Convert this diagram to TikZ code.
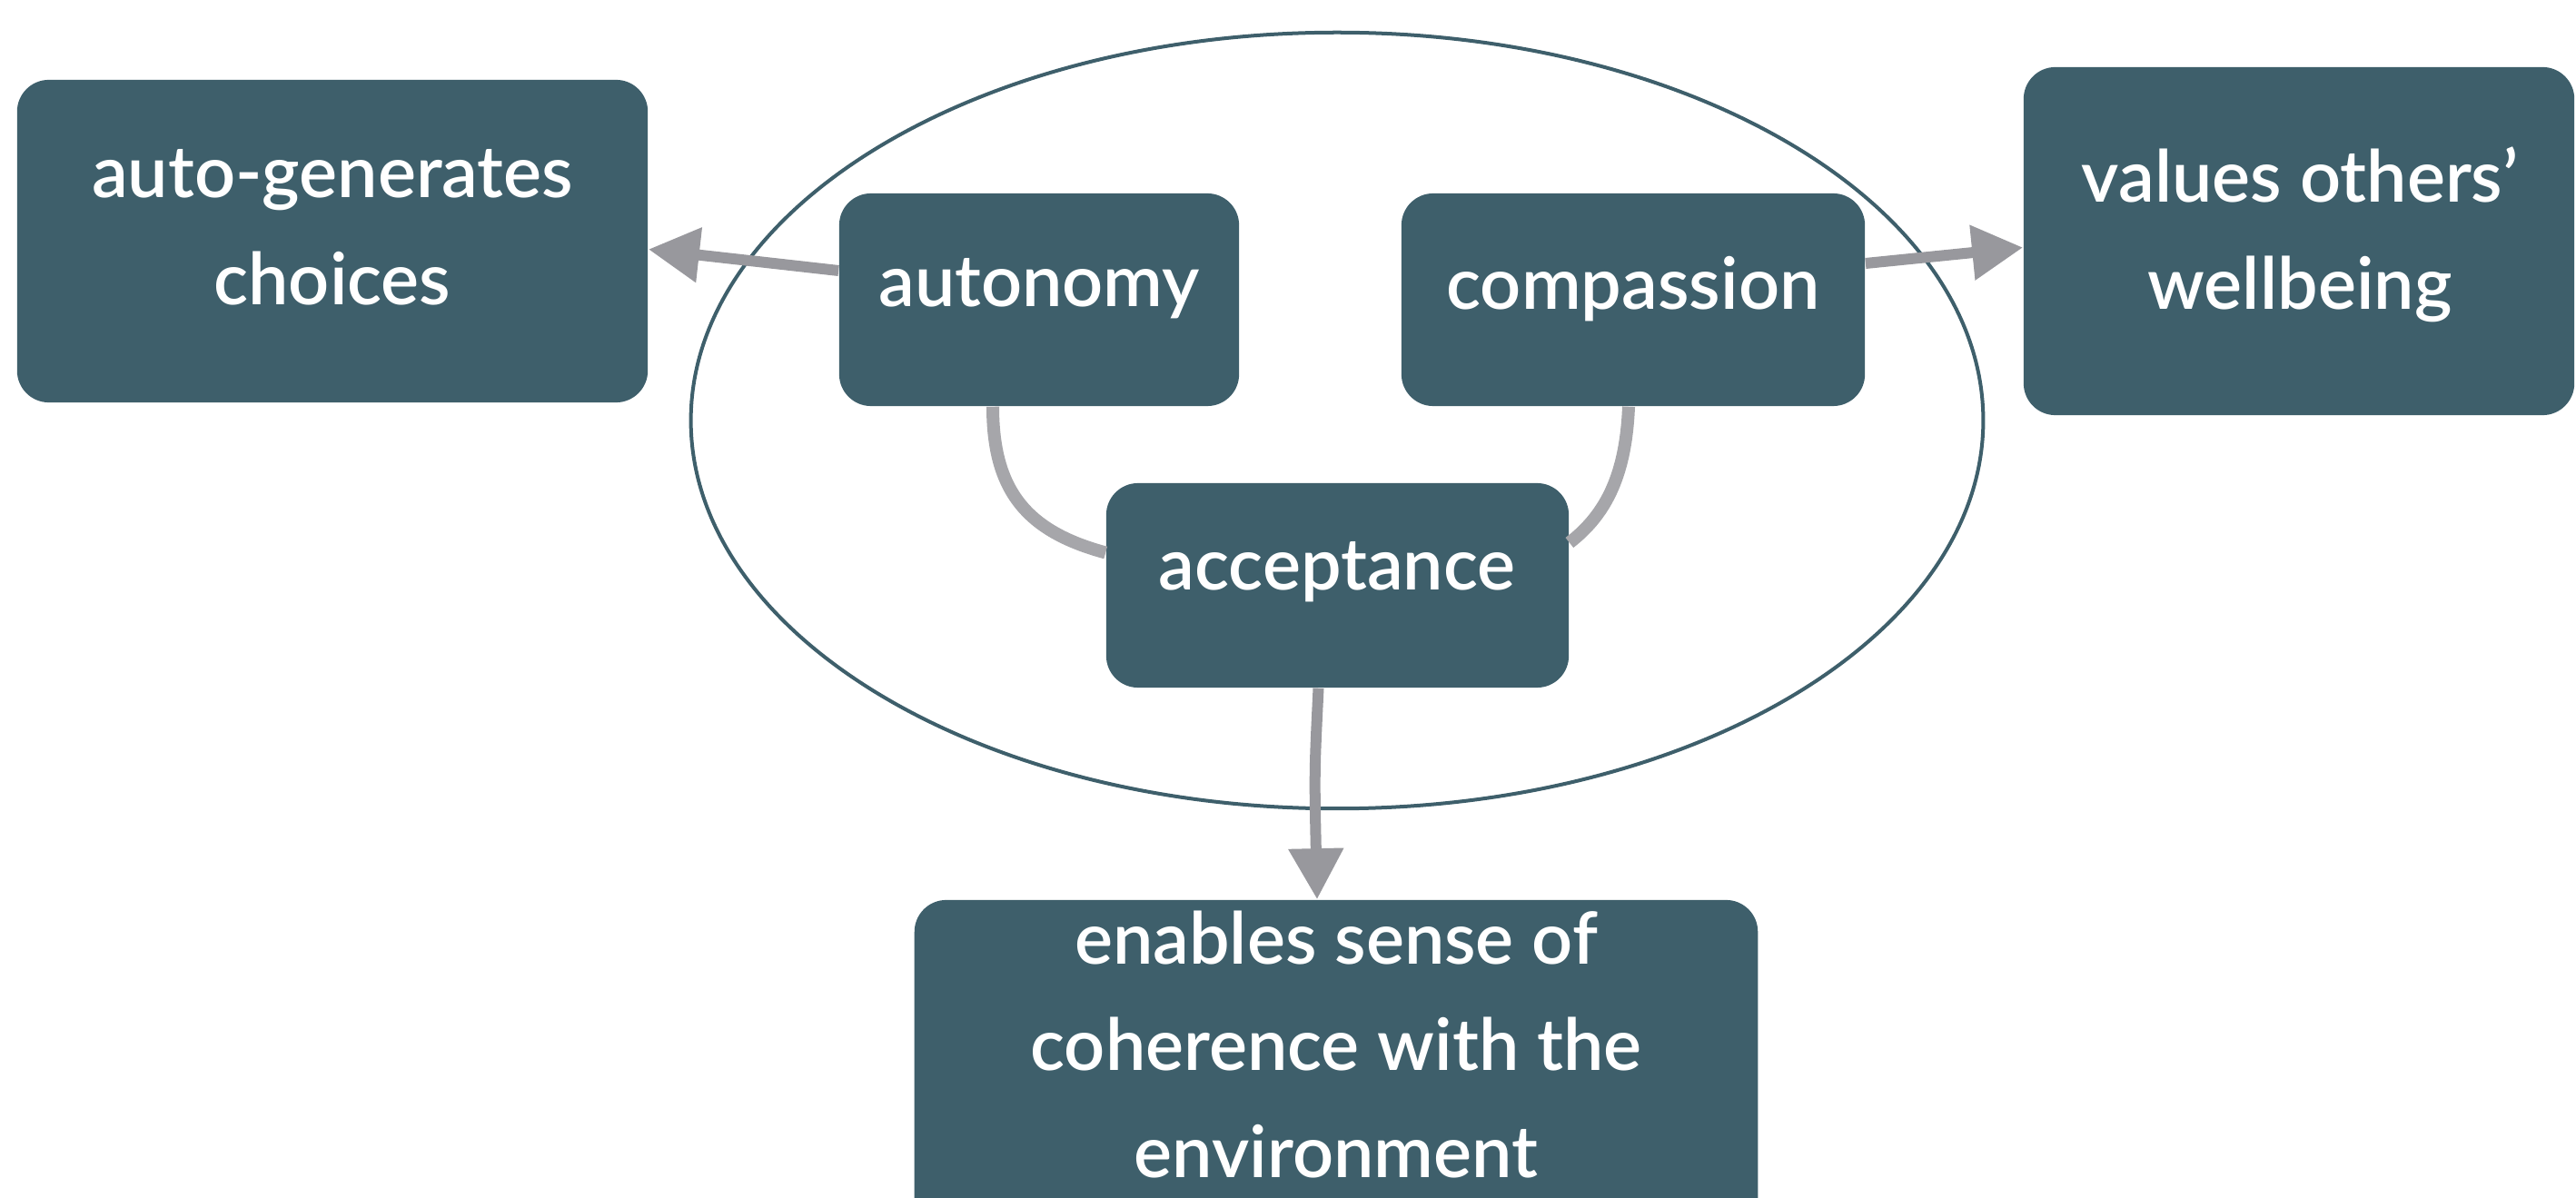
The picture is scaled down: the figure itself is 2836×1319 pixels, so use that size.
\documentclass[tikz,border=0pt]{standalone}
\usepackage{fontspec}
\setmainfont{Lato}[UprightFont=* Semibold]
\usetikzlibrary{arrows.meta,calc}
\definecolor{boxc}{HTML}{3E5F6B}
\definecolor{linkc}{HTML}{98989D}
\definecolor{curvec}{HTML}{A6A6AA}
\begin{document}
\begin{tikzpicture}[x=0.01cm,y=-0.01cm,
  box/.style={fill=boxc, rounded corners=0.35cm, inner sep=0pt},
  txt/.style={text=white, align=center, inner sep=0pt,
    font=\fontsize{22.5}{33.5}\selectfont},
  link/.style={draw=linkc, line width=0.12cm,
    -{Triangle[length=0.56cm,width=0.58cm]}},
  tie/.style={draw=curvec, line width=0.14cm}]
\useasboundingbox (0,0) rectangle (2836,1319);
\clip (0,0) rectangle (2836,1319);

% enclosing ellipse
\draw[boxc, line width=0.04cm] (1472,463) ellipse [x radius=7.11cm, y radius=4.27cm];

% boxes
\node[box, minimum width=6.94cm, minimum height=3.55cm] (gen) at (366,265.5) {};
\node[box, minimum width=4.40cm, minimum height=2.34cm] (aut) at (1144,330) {};
\node[box, minimum width=5.10cm, minimum height=2.34cm] (com) at (1798,330) {};
\node[box, minimum width=6.06cm, minimum height=3.83cm] (val) at (2531,265.5) {};
\node[box, minimum width=5.09cm, minimum height=2.25cm] (acc) at (1472.5,644.5) {};
\node[box, minimum width=9.28cm, minimum height=3.80cm] (env) at (1471,1181) {};

% labels
\node[txt] (gen-t) at (366,250) {auto-generates\\choices};
\node[txt] (aut-t) at (1144,318) {autonomy};
\node[txt] (com-t) at (1798,318) {compassion};
\node[txt] (val-t) at (2532,258) {values others’\\wellbeing};
\node[txt] (acc-t) at (1472,630) {acceptance};
\node[txt] (env-t) at (1471,1150) {enables sense of\\coherence with the\\environment};

% connectors
\draw[tie] ($(aut.south)+(-51,0)$) .. controls (1093,540) and (1130,585) .. ($(acc.west)+(0,-36)$);
\draw[tie] ($(com.south)+(-5,0)$) .. controls (1790,520) and (1770,565) .. ($(acc.east)+(0,-47)$);
\draw[link] ($(aut.west)+(0,-32)$) -- ($(gen.east)+(0,9)$);
\draw[link] ($(com.east)+(0,-40)$) -- ($(val.west)+(0,7)$);
\draw[link] ($(acc.south)+(-21,0)$) .. controls (1447,850) .. ($(env.north)+(-21,0)$);
\end{tikzpicture}
\end{document}
